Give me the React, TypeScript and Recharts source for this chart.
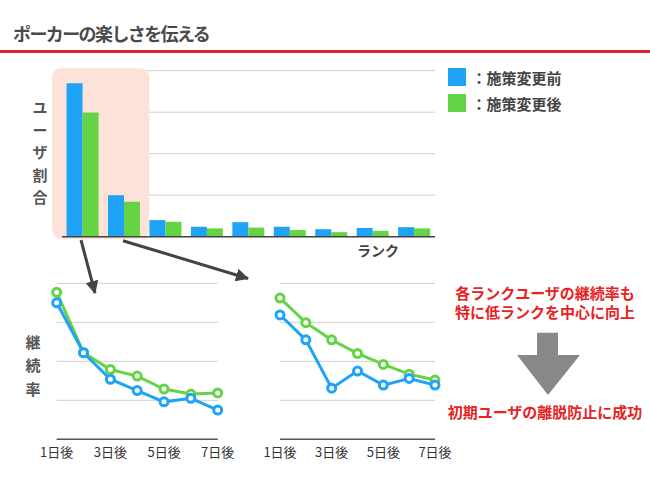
import React from 'react';
import {
  BarChart, Bar, XAxis, YAxis, CartesianGrid, ReferenceArea, ReferenceLine, Legend,
  LineChart, Line,
} from 'recharts';

const ranks = ['R1', 'R2', 'R3', 'R4', 'R5', 'R6', 'R7', 'R8', 'R9'];
const shareBefore = [3.7, 1.0, 0.4, 0.24, 0.35, 0.24, 0.18, 0.21, 0.23];
const shareAfter = [2.99, 0.84, 0.36, 0.2, 0.22, 0.16, 0.11, 0.14, 0.2];

const days = ['1日後', '2日後', '3日後', '4日後', '5日後', '6日後', '7日後'];
const lowBefore = [3.5, 2.22, 1.54, 1.25, 0.96, 1.05, 0.75];
const lowAfter = [3.77, 2.22, 1.79, 1.62, 1.29, 1.16, 1.19];
const midBefore = [3.19, 2.55, 1.31, 1.75, 1.39, 1.56, 1.39];
const midAfter = [3.62, 2.99, 2.55, 2.2, 1.92, 1.67, 1.52];

const yTicks = [0, 1, 2, 3, 4];

const BLUE = '#1fa3f6';
const GREEN = '#64d444';
const FONT = '"Noto Sans CJK JP", "Noto Sans", sans-serif';

const barData = ranks.map((r, i) => ({ rank: r, before: shareBefore[i], after: shareAfter[i] }));
const lowData = days.map((d, i) => ({ day: d, before: lowBefore[i], after: lowAfter[i] }));
const midData = days.map((d, i) => ({ day: d, before: midBefore[i], after: midAfter[i] }));

const Highlight = (p: any) => (
  <rect x={p.x - 10} y={p.y - 2.5} width={p.width + 14.5} height={p.height + 4.5} rx={9} ry={9} fill="#fde2d9" />
);

const LegendContent = (props: any) => {
  const payload = props.payload || [];
  return (
    <div>
      {payload.map((e: any) => (
        <div key={e.value} style={{ display: 'flex', alignItems: 'center', height: 26 }}>
          <span style={{ width: 17.5, height: 17.5, background: e.color, display: 'inline-block' }} />
          <span style={{ marginLeft: 6, fontSize: 15, fontWeight: 700, color: '#444', fontFamily: FONT }}>：{e.value}</span>
        </div>
      ))}
    </div>
  );
};

const RetentionChart = ({ data, left, width, marginLeft, marginRight }: any) => (
  <div style={{ position: 'absolute', left, top: 270 }}>
    <LineChart width={width} height={200} data={data}
      margin={{ top: 13.3, left: marginLeft, right: marginRight, bottom: 5.7 }}>
      <CartesianGrid vertical={false} stroke="#cfcfcf" />
      <XAxis dataKey="day" height={25} interval={1} tickLine={false}
        axisLine={{ stroke: '#555', strokeWidth: 1.5 }}
        tick={{ fill: '#333', fontSize: 13, fontFamily: FONT }} />
      <YAxis hide domain={[0, 4]} ticks={yTicks} />
      <Line dataKey="after" stroke={GREEN} strokeWidth={3} isAnimationActive={false}
        dot={{ r: 4, fill: '#fff', stroke: GREEN, strokeWidth: 3 }} />
      <Line dataKey="before" stroke={BLUE} strokeWidth={3} isAnimationActive={false}
        dot={{ r: 4, fill: '#fff', stroke: BLUE, strokeWidth: 3 }} />
    </LineChart>
  </div>
);

const vText = (chars: string[], left: number, top: number, step: number) => (
  <div style={{ position: 'absolute', left, top, fontSize: 15, fontWeight: 700, color: '#555', fontFamily: FONT, textAlign: 'center', width: 16 }}>
    {chars.map((c, i) => (
      <div key={i} style={{ height: step, lineHeight: step + 'px' }}>{c}</div>
    ))}
  </div>
);

export default function App() {
  return (
    <div style={{ position: 'absolute', left: 0, top: 0, width: 650, height: 487, background: '#fff', fontFamily: FONT, overflow: 'hidden' }}>
      <div style={{ position: 'absolute', left: 13, top: 23, fontSize: 18, fontWeight: 700, color: '#4a4a4a', lineHeight: '20px', letterSpacing: '-1.6px', whiteSpace: 'nowrap' }}>
        ポーカーの楽しさを伝える
      </div>
      <div style={{ position: 'absolute', left: 0, top: 50, width: 650, height: 2.6, background: '#dc2430' }} />

      <div style={{ position: 'absolute', left: 0, top: 0 }}>
        <BarChart width={650} height={262} data={barData}
          margin={{ top: 70.7, left: 62, right: 215, bottom: 25.3 }}
          barCategoryGap="11%" barGap={0}>
          <ReferenceArea x1="R1" x2="R2" ifOverflow="visible" shape={Highlight} />
          <CartesianGrid vertical={false} stroke="#cfcfcf" />
          <XAxis dataKey="rank" hide />
          <YAxis hide domain={[0, 4]} ticks={yTicks} />
          <Bar dataKey="before" name="施策変更前" fill={BLUE} isAnimationActive={false} />
          <Bar dataKey="after" name="施策変更後" fill={GREEN} isAnimationActive={false} />
          <ReferenceLine y={0} stroke="#444" strokeWidth={1.5} />
          <Legend layout="vertical" align="center" verticalAlign="middle" content={LegendContent}
            wrapperStyle={{ position: 'absolute', left: 448, top: 64, width: 'auto', height: 'auto' }} />
        </BarChart>
      </div>

      {vText(['ユ', 'ー', 'ザ', '割', '合'], 32, 96, 22.5)}
      <div style={{ position: 'absolute', left: 357, top: 241, fontSize: 14, fontWeight: 700, color: '#444', lineHeight: '18px' }}>ランク</div>

      <RetentionChart data={lowData} left={0} width={250} marginLeft={56.7} marginRight={32.3} />
      <RetentionChart data={midData} left={250} width={215} marginLeft={30} marginRight={30} />

      {vText(['継', '続', '率'], 25, 330, 23.3)}

      <svg width={650} height={487} style={{ position: 'absolute', left: 0, top: 0, pointerEvents: 'none' }}>
        <defs>
          <marker id="ah" markerUnits="userSpaceOnUse" markerWidth={13} markerHeight={13} refX={12} refY={6.5} orient="auto">
            <path d="M0,0 L13,6.5 L0,13 z" fill="#444" />
          </marker>
        </defs>
        <line x1={81} y1={240} x2={95} y2={293} stroke="#444" strokeWidth={3} markerEnd="url(#ah)" />
        <line x1={123} y1={240.7} x2={248} y2={278.5} stroke="#444" strokeWidth={3} markerEnd="url(#ah)" />
        <polygon points="537,332.7 558,332.7 558,355 580,355 548,395 517,355 537,355" fill="#888" />
      </svg>

      <div style={{ position: 'absolute', left: 430, width: 230, top: 284, textAlign: 'center', fontSize: 15, fontWeight: 700, color: '#e62222', lineHeight: '18.5px' }}>
        <div>各ランクユーザの継続率も</div>
        <div>特に低ランクを中心に向上</div>
      </div>
      <div style={{ position: 'absolute', left: 430, width: 230, top: 402.5, textAlign: 'center', fontSize: 15, fontWeight: 700, color: '#e62222', lineHeight: '18.5px' }}>
        初期ユーザの離脱防止に成功
      </div>
    </div>
  );
}
